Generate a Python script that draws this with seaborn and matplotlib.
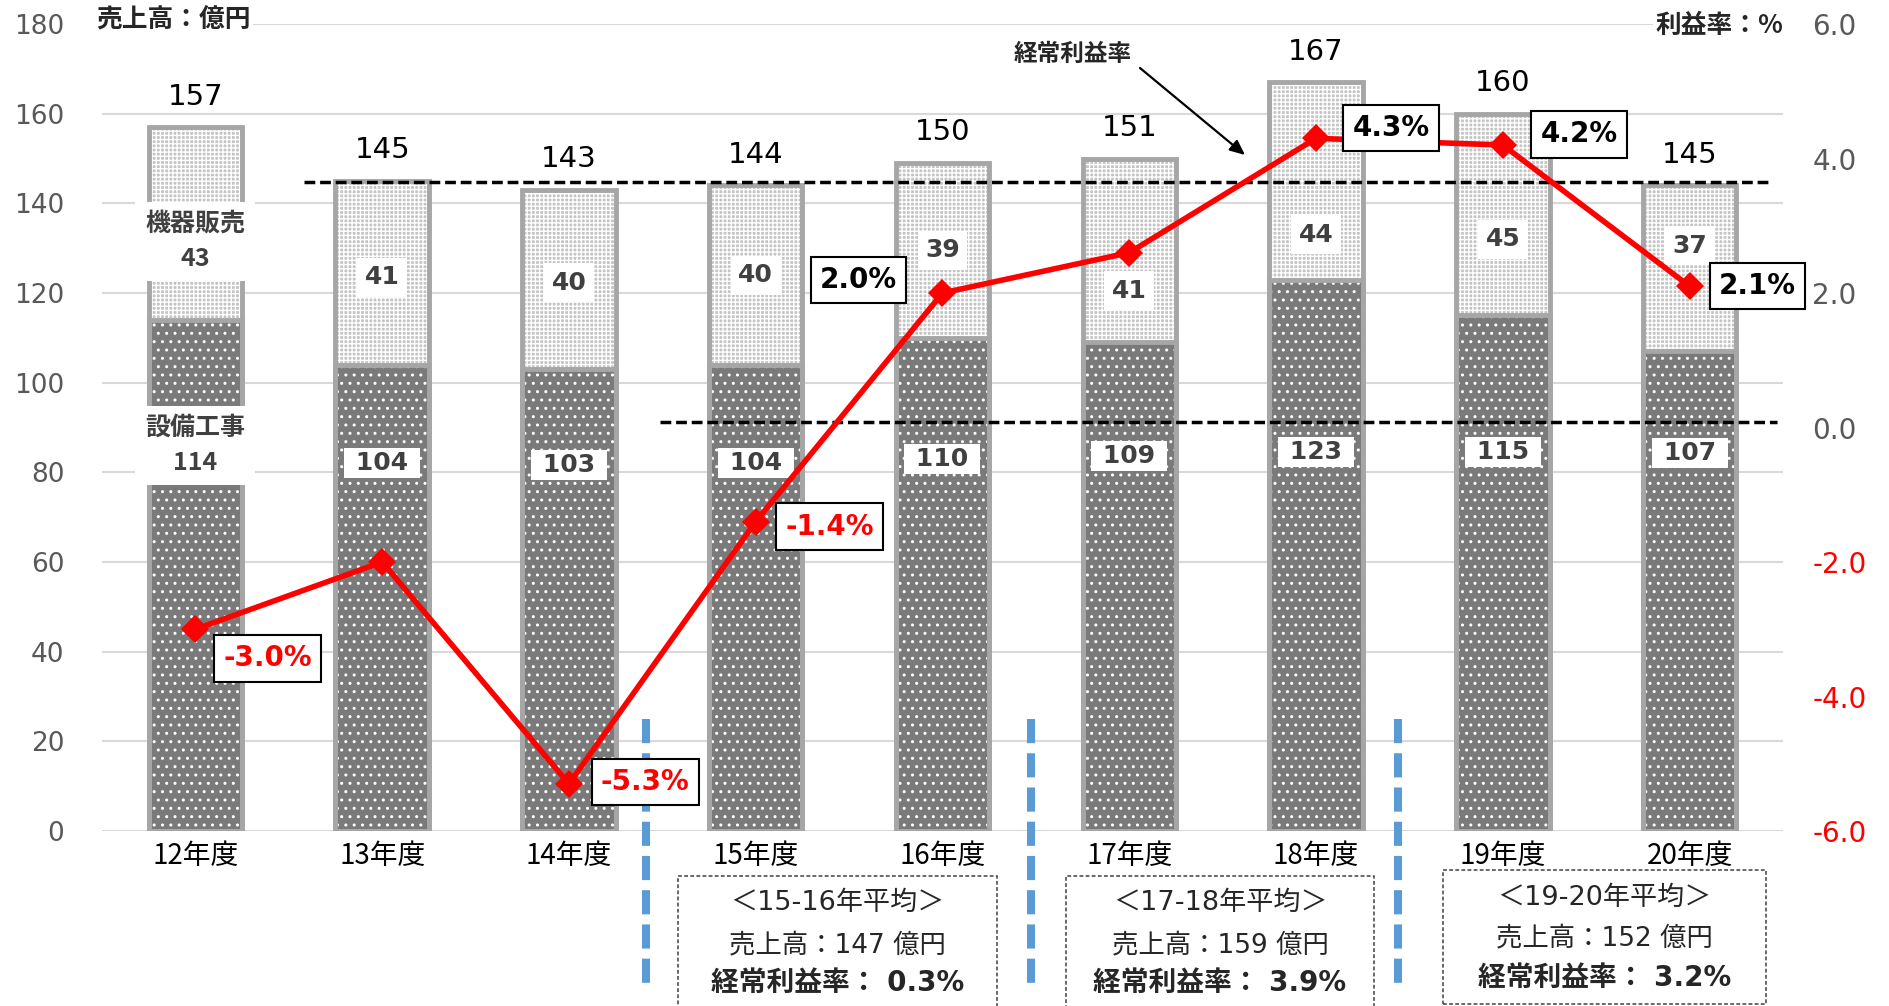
import numpy as np
import pandas as pd
import matplotlib
matplotlib.use('Agg')
import matplotlib.pyplot as plt
import seaborn as sns
from matplotlib.patches import Rectangle

# --- data ---------------------------------------------------------------
years = ['12年度', '13年度', '14年度', '15年度', '16年度', '17年度', '18年度', '19年度', '20年度']
works = [114, 104, 103, 104, 110, 109, 123, 115, 107]      # 設備工事
machines = [43, 41, 40, 40, 39, 41, 44, 45, 37]            # 機器販売
totals = [157, 145, 143, 144, 150, 151, 167, 160, 145]     # 売上高 (億円)
rates = [-3.0, -2.0, -5.3, -1.4, 2.0, 2.6, 4.3, 4.2, 2.1]  # 経常利益率 (%)
rate_shown = [True, False, True, True, True, False, True, True, True]

avg_periods = ['15-16', '17-18', '19-20']
avg_sales = [147, 159, 152]
avg_rates = [0.3, 3.9, 3.2]

df = pd.DataFrame({'year': years, 'work': works, 'machine': machines})
df['stack'] = df['work'] + df['machine']
x = np.arange(len(years))

# --- layout tweaks (label nudges copied from the original) --------------
top_nudge = [-4, -1, -0.7, 0, 0, -9, -12, -5.5, 5]
low_label_y = [86, 82.1, 81.6, 82.1, 82.9, 83.7, 84.5, 84.5, 84.3]
rate_offsets = [(52, -21), None, (55, 1.5), (53, -3.6), (-60.5, 9.4),
                None, (54, 7.5), (55, 7.6), (49, 0)]

W, H = 1890, 1006
sns.set_style('white')
plt.rcParams['font.family'] = ['DejaVu Sans', 'Noto Sans CJK JP']
CJK = ['Noto Sans CJK JP', 'DejaVu Sans']
GRAY = '#595959'
DARK = '#404040'

fig = plt.figure(figsize=(W / 100, H / 100), dpi=100)
ax = fig.add_axes([102 / W, 1 - 831 / H, (1783 - 102) / W, (831 - 24) / H])

# stacked bars: light textured top, dark dotted bottom, grey outline
plt.rcParams['hatch.linewidth'] = 1.0
sns.barplot(data=df, x='year', y='stack', color='#c4c4c4', edgecolor='white',
            linewidth=0, hatch='++++', width=0.5, ax=ax)
sns.barplot(data=df, x='year', y='work', color='#7a7a7a', edgecolor='white',
            linewidth=0, hatch='..', width=0.5, ax=ax)
for col in ['stack', 'work']:
    sns.barplot(data=df, x='year', y=col, fill=False, color='#a6a6a6',
                linewidth=3.5, width=0.5, ax=ax)

ax.set_ylim(0, 180)
ax.set_yticks(range(0, 181, 20))
ax.set_axisbelow(True)
ax.yaxis.grid(True, color='#d9d9d9', linewidth=1.5)
ax.xaxis.grid(False)

# totals above bars
for i, (s, t) in enumerate(zip(df['stack'], totals)):
    ax.annotate(str(t), (i, s), xytext=(0, 22), textcoords='offset points',
                ha='center', va='center', fontsize=21, color='black')

# segment labels
lbl = dict(ha='center', va='center', fontsize=18, weight='bold', color=DARK, zorder=4)
for i in range(len(years)):
    top_y = (df['work'][i] + df['stack'][i]) / 2 + top_nudge[i]
    if i == 0:
        big = dict(boxstyle='square,pad=0.4', fc='white', ec='none')
        ax.text(i, top_y, f'機器販売\n{machines[i]}', linespacing=1.6,
                family=CJK, bbox=big, **lbl)
        ax.text(i, low_label_y[i], f'設備工事\n{works[i]}', linespacing=1.6,
                family=CJK, bbox=big, **lbl)
    else:
        ax.text(i, top_y, str(machines[i]),
                bbox=dict(boxstyle='square,pad=0.3', fc='white', ec='none'), **lbl)
        ax.text(i, low_label_y[i], f' {works[i]} ',
                bbox=dict(boxstyle='square,pad=0.12', fc='white', ec='none'), **lbl)

# reference dashed lines
ax.plot([0.58, 8.44], [144.8, 144.8], color='black', lw=2.5,
        dashes=(3.1, 1.4), zorder=3)
ax.plot([2.49, 8.47], [91.3, 91.3], color='black', lw=2.5,
        dashes=(3.1, 1.4), zorder=3)

# blue period separators
for xb in [2.412, 4.473, 6.438]:
    ax.plot([xb, xb], [25, -34], color='#5b9bd5', lw=5.8, dashes=(3, 1.25),
            clip_on=False, zorder=3)

ax.set_xticks(x)
ax.set_xticklabels(years, fontsize=20, family=CJK, color='black')
ax.tick_params(axis='x', length=0, pad=7)
ax.tick_params(axis='y', length=0, pad=27, labelsize=19, labelcolor=GRAY)
ax.set_xlabel('')
ax.set_ylabel('')

# profit rate line on the right axis
ax2 = ax.twinx()
sns.lineplot(x=x, y=rates, ax=ax2, color='#ff0000', linewidth=4,
             marker='D', markersize=14, markeredgewidth=0, zorder=5)
for i, (r, show) in enumerate(zip(rates, rate_shown)):
    if not show:
        continue
    ax2.annotate(f'{r:.1f}%', (i, r), xytext=rate_offsets[i],
                 textcoords='offset points', ha='center', va='center',
                 fontsize=20, weight='bold',
                 color='#ff0000' if r < 0 else 'black',
                 bbox=dict(boxstyle='square,pad=0.33', fc='white', ec='black', lw=1.5),
                 zorder=6)

rticks = np.arange(-6, 7, 2)
ax2.set_ylim(-6, 6)
ax2.set_yticks(rticks)
ax2.set_yticklabels([f'{v:.1f}' for v in rticks])
ax2.tick_params(axis='y', length=0, pad=21, labelsize=20)
for lab, v in zip(ax2.get_yticklabels(), rticks):
    lab.set_color('#ff0000' if v < 0 else GRAY)
ax2.set_ylabel('')

for a in (ax, ax2):
    for s in a.spines.values():
        s.set_visible(False)
ax.set_xlim(-0.5, 8.5)

# axis titles
fig.text(96 / W, 1 - 20 / H, '売上高：億円', ha='left', va='center',
         fontsize=18.5, weight='bold', family=CJK,
         bbox=dict(boxstyle='square,pad=0.1', fc='white', ec='none'))
fig.text(1783 / W, 1 - 25 / H, '利益率：%', ha='right', va='center',
         fontsize=18.5, weight='bold', family=CJK,
         bbox=dict(boxstyle='square,pad=0.1', fc='white', ec='none'))

# arrow note
fig.text(1073 / W, 1 - 54 / H, '経常利益率', ha='center', va='center',
         fontsize=17, weight='bold', family=CJK)
ax.annotate('', xy=(1245, H - 155), xycoords='figure pixels',
            xytext=(1140, H - 68), textcoords='figure pixels',
            arrowprops=dict(arrowstyle='-|>,head_length=0.9,head_width=0.4',
                            color='black', lw=1.6, shrinkA=0, shrinkB=0))

# period average boxes
boxes = [(678, 997, 876, 1030, [903, 945, 983]),
         (1066, 1374, 876, 1030, [903, 945, 983]),
         (1443, 1766, 870, 1004, [898, 938, 978])]
for (x0, x1, y0, y1, ys), p, s, r in zip(boxes, avg_periods, avg_sales, avg_rates):
    fig.add_artist(Rectangle((x0 / W, 1 - y1 / H), (x1 - x0) / W, (y1 - y0) / H,
                             transform=fig.transFigure, fill=False, ec=DARK,
                             lw=1.1, ls=(0, (2.5, 1.5))))
    cx = (x0 + x1) / 2 / W
    fig.text(cx, 1 - ys[0] / H, f'＜{p}年平均＞', ha='center', va='center', fontsize=19.5)
    fig.text(cx, 1 - ys[1] / H, f'売上高：{s} 億円', ha='center', va='center', fontsize=19)
    fig.text(cx, 1 - ys[2] / H, f'経常利益率： {r:.1f}%', ha='center', va='center',
             fontsize=20, weight='bold')

fig.savefig('out.png', dpi=100)
